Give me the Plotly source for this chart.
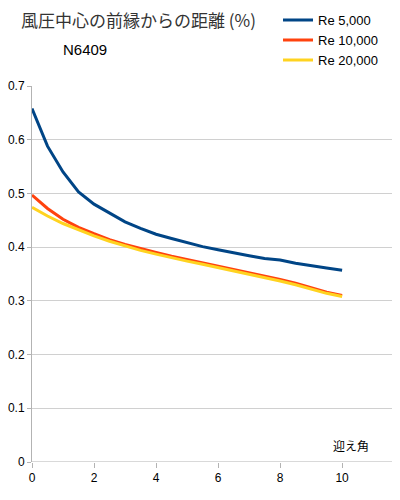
import plotly.graph_objects as go

x = [i * 0.5 for i in range(21)]
re5000 = [0.658, 0.588, 0.540, 0.503, 0.480, 0.463, 0.447, 0.435, 0.424, 0.416, 0.408,
          0.401, 0.395, 0.389, 0.384, 0.379, 0.376, 0.370, 0.365, 0.361, 0.357]
re10000 = [0.497, 0.472, 0.452, 0.437, 0.425, 0.414, 0.405, 0.397, 0.390, 0.383, 0.377,
           0.371, 0.365, 0.359, 0.353, 0.346, 0.340, 0.333, 0.325, 0.316, 0.310]
re20000 = [0.474, 0.458, 0.444, 0.432, 0.421, 0.411, 0.402, 0.394, 0.387, 0.380, 0.374,
           0.368, 0.362, 0.356, 0.350, 0.344, 0.337, 0.330, 0.322, 0.314, 0.308]
series_names = ["Re 5,000", "Re 10,000", "Re 20,000"]
colors = ["#004586", "#ff420e", "#ffd320"]

fig = go.Figure()
for name, ys, c in zip(series_names, [re5000, re10000, re20000], colors):
    fig.add_trace(go.Scatter(x=x, y=ys, mode="lines", name=name,
                             line=dict(color=c, width=3)))

fig.update_layout(
    width=392, height=492,
    margin=dict(l=24, r=3, t=78, b=38, autoexpand=False),
    paper_bgcolor="white", plot_bgcolor="white",
    font=dict(family="Liberation Sans, Arial, sans-serif", size=12, color="#000"),
    legend=dict(x=0.674, y=1.215, xanchor="left", yanchor="top",
                font=dict(size=13), tracegroupgap=0, itemwidth=30,
                bgcolor="rgba(0,0,0,0)"),
    xaxis=dict(range=[0, 11.77], tickvals=[0, 2, 4, 6, 8, 10], showgrid=False,
               zeroline=False, showline=False, ticks="outside", ticklen=5,
               tickcolor="#b3b3b3", automargin=False),
    yaxis=dict(range=[0, 0.7], dtick=0.1, showgrid=True, gridcolor="#d0d0d0",
               zeroline=False, showline=True, linecolor="#b3b3b3",
               ticks="outside", ticklen=4, tickcolor="#b3b3b3", tickformat="~g",
               automargin=False),
    annotations=[
        dict(text="風圧中心の前縁からの距離 (%)", xref="paper", yref="paper",
             x=-0.035, y=1.176, xanchor="left", yanchor="middle", showarrow=False,
             font=dict(family="Noto Sans CJK JP, Liberation Sans", size=17, color="#333")),
        dict(text="N6409", xref="paper", yref="paper",
             x=0.08, y=1.096, xanchor="left", yanchor="middle", showarrow=False,
             font=dict(size=15, color="#000")),
        dict(text="迎え角", x=10.3, y=0.03, xanchor="center", yanchor="middle",
             showarrow=False,
             font=dict(family="Noto Sans CJK JP", size=12, color="#000")),
    ],
    shapes=[dict(type="line", xref="paper", yref="y", x0=0, x1=1, y0=0, y1=0,
                 line=dict(color="#b3b3b3", width=1))],
)

fig.write_html("out.html")
